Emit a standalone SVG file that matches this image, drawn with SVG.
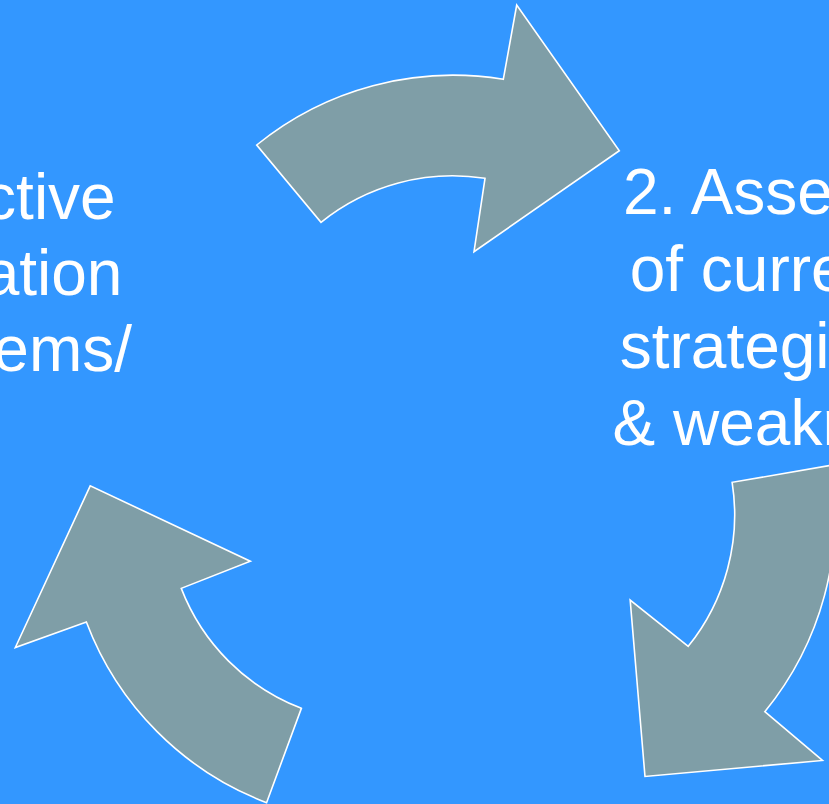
<svg xmlns="http://www.w3.org/2000/svg" xmlns:xlink="http://www.w3.org/1999/xlink" width="829" height="804" viewBox="0 0 829 804">
  <style>
    .bg { fill: #3397FF; }
    .cycle-arrow { fill: #7F9EA7; stroke: #FFFFFF; stroke-width: 1.6; stroke-linejoin: miter; }
    .label { font-family: "Liberation Sans", Arial, sans-serif; font-size: 64px; fill: #FFFFFF; }
    .end { text-anchor: end; }
  </style>
  <defs>
    <!-- one curved block arrow; the other two are copies turned 120 degrees about the cycle centre (451.5, 471) -->
    <path id="curved-arrow" d="M256.7,145 A311,311 0 0 1 503.3,79.3 L516.7,5 L619.3,150.7 L474,251.7 L485,178.3 A209.5,209.5 0 0 0 321,222.3 Z"/>
  </defs>

  <rect class="bg" x="0" y="0" width="829" height="804"/>

  <g id="connectors">
    <use xlink:href="#curved-arrow" href="#curved-arrow" class="cycle-arrow"/>
    <use xlink:href="#curved-arrow" href="#curved-arrow" class="cycle-arrow" transform="rotate(120 451.5 471)"/>
    <use xlink:href="#curved-arrow" href="#curved-arrow" class="cycle-arrow" transform="rotate(240 451.5 471)"/>
  </g>

  <g id="node-1">
    <text class="label end" x="115.7" y="218.5">ctive</text>
    <text class="label end" x="122.4" y="295">ation</text>
    <text class="label end" x="132" y="371">ems/</text>
  </g>

  <g id="node-2">
    <text class="label" x="623" y="214">2. Asse</text>
    <text class="label" x="629.7" y="291">of curre</text>
    <text class="label" x="619.7" y="368">strategi</text>
    <text class="label" x="612.5" y="445">&amp; weakn</text>
  </g>
</svg>
